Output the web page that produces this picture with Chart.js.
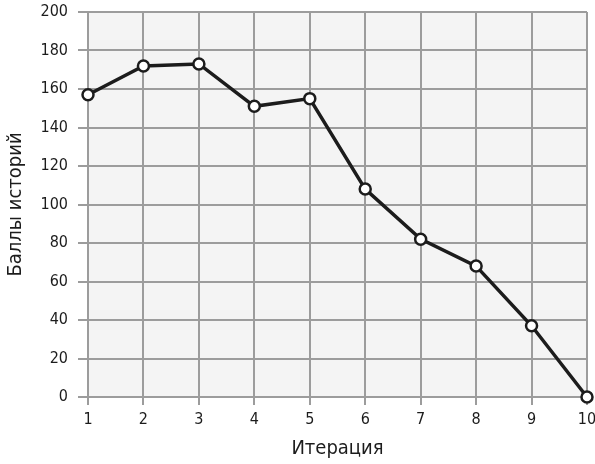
<!DOCTYPE html>
<html>
<head>
<meta charset="utf-8">
<script src="https://cdn.jsdelivr.net/npm/chart.js@4"></script>
<style>
  html, body { margin: 0; padding: 0; background: #fff; }
  #wrap { width: 595px; height: 464px; }
</style>
</head>
<body>
<div id="wrap"><canvas id="c" width="595" height="464"></canvas></div>
<script>
// data
const iterations = [1, 2, 3, 4, 5, 6, 7, 8, 9, 10];
const scores = [157, 172, 173, 151, 155, 108, 82, 68, 37, 0];
const xTitle = "Итерация";
const yTitle = "Баллы историй";

const font = "'Liberation Sans Narrow', 'DejaVu Sans Condensed', 'Liberation Sans', sans-serif";
const gridColor = "#9c9c9c", ink = "#1c1c1c";

// light grey fill behind the plot area
const plotBg = {
  id: "plotBg",
  beforeDraw(chart) {
    const { ctx, chartArea: a } = chart;
    ctx.save();
    ctx.fillStyle = "#f4f4f4";
    ctx.fillRect(a.left, a.top, a.right - a.left, a.bottom - a.top);
    ctx.restore();
  },
};

new Chart(document.getElementById("c"), {
  type: "line",
  data: {
    datasets: [{
      data: iterations.map((x, i) => ({ x, y: scores[i] })),
      borderColor: ink,
      borderWidth: 3.5,
      pointRadius: 5.5,
      pointBorderWidth: 2.5,
      pointBackgroundColor: "#fff",
      pointBorderColor: ink,
      tension: 0,
    }],
  },
  options: {
    responsive: false,
    animation: false,
    clip: false,
    layout: { padding: { top: 12, right: 7, left: 0, bottom: 0 } },
    plugins: { legend: { display: false }, tooltip: { enabled: false } },
    scales: {
      x: {
        type: "linear", min: 1, max: 10,
        grid: { color: gridColor, lineWidth: 2, tickLength: 8 },
        border: { color: gridColor, width: 2 },
        ticks: { stepSize: 1, color: ink, padding: 5, maxRotation: 0, font: { family: font, size: 16 } },
        title: { display: true, text: xTitle, color: ink, padding: { top: 0, bottom: 3 }, font: { family: font, size: 20 } },
        afterFit(s) { s.height = 67; s.paddingLeft = 0; s.paddingRight = 0; },
      },
      y: {
        min: 0, max: 200,
        grid: { color: gridColor, lineWidth: 2, tickLength: 10 },
        border: { color: gridColor, width: 2 },
        ticks: { stepSize: 20, color: ink, padding: 10, font: { family: font, size: 16 } },
        title: { display: true, text: yTitle, color: ink, padding: { top: 4, bottom: 0 }, font: { family: font, size: 20 } },
        afterFit(s) { s.width = 88; s.paddingTop = 0; s.paddingBottom = 0; },
      },
    },
  },
  plugins: [plotBg],
});
</script>
</body>
</html>
